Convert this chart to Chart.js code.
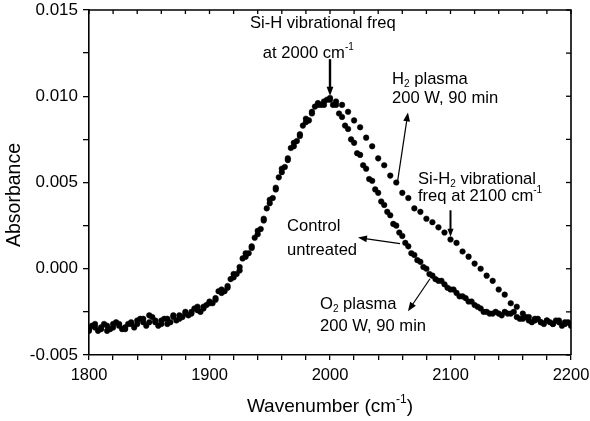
<!DOCTYPE html>
<html>
<head>
<meta charset="utf-8">
<script src="https://cdn.jsdelivr.net/npm/chart.js@4/dist/chart.umd.min.js"></script>
<style>
  html, body { margin: 0; padding: 0; background: #fff; }
  #wrap { width: 590px; height: 421px; }
</style>
</head>
<body>
<div id="wrap"><canvas id="c"></canvas></div>
<script>
// wavenumber grid (cm-1) of the control and H2 spectra
const wavenumbers = [
  1800, 1805, 1810, 1815, 1820, 1825, 1830, 1835, 1840, 1845,
  1850, 1855, 1860, 1865, 1870, 1875, 1880, 1885, 1890, 1895,
  1900, 1905, 1910, 1915, 1920, 1925, 1930, 1935, 1940, 1945,
  1950, 1955, 1960, 1965, 1970, 1975, 1980, 1985, 1990, 1995,
  2000, 2005, 2010, 2015, 2020, 2025, 2030, 2035, 2040, 2045,
  2050, 2055, 2060, 2065, 2070, 2075, 2080, 2085, 2090, 2095,
  2100, 2105, 2110, 2115, 2120, 2125, 2130, 2135, 2140, 2145,
  2150, 2155, 2160, 2165, 2170, 2175, 2180, 2185, 2190, 2195,
  2200
];
// O2 spectrum sampled half a step later
const wavenumbersO2 = wavenumbers.slice(0, 80).map(w => w + 2.5);

const controlUntreated = [
  -0.0035, -0.0034, -0.0035, -0.0033, -0.0034, -0.0032, -0.0034, -0.0031, -0.0032, -0.0029,
  -0.0031, -0.0030, -0.0032, -0.0029, -0.0028, -0.0027, -0.0026, -0.0025, -0.0024, -0.0022,
  -0.0020, -0.0017, -0.0014, -0.0010, -0.0005, 0.0001, 0.0007, 0.0013, 0.0020, 0.0029,
  0.0038, 0.0047, 0.0056, 0.0064, 0.0071, 0.0078, 0.0085, 0.0091, 0.0095, 0.0097,
  0.0098, 0.0095, 0.0088, 0.0081, 0.0073, 0.0066, 0.0058, 0.0051, 0.0044, 0.0037,
  0.0031, 0.0025, 0.0019, 0.0013, 0.0008, 0.0004, 0.0000, -0.0004, -0.0007, -0.0009,
  -0.0012, -0.0014, -0.0016, -0.0019, -0.0021, -0.0023, -0.0025, -0.0026, -0.0026, -0.0025,
  -0.0026, -0.0028, -0.0029, -0.0030, -0.0030, -0.0031, -0.0030, -0.0032, -0.0031, -0.0032,
  -0.0033
];

const o2Plasma = [
  -0.0033, -0.0036, -0.0032, -0.0035, -0.0031, -0.0035, -0.0032, -0.0034, -0.0029, -0.0033,
  -0.0028, -0.0033, -0.0029, -0.0031, -0.0030, -0.0028, -0.0027, -0.0023, -0.0025, -0.0021,
  -0.0020, -0.0013, -0.0013, -0.0006, -0.0003, 0.0006, 0.0009, 0.0018, 0.0023, 0.0035,
  0.0041, 0.0053, 0.0059, 0.0070, 0.0074, 0.0083, 0.0086, 0.0094, 0.0095, 0.0098,
  0.0095, 0.0090, 0.0083, 0.0075, 0.0067, 0.0060, 0.0052, 0.0046, 0.0039, 0.0033,
  0.0026, 0.0021, 0.0015, 0.0009, 0.0005, 0.0001, -0.0003, -0.0006, -0.0007, -0.0011,
  -0.0012, -0.0016, -0.0017, -0.0019, -0.0022, -0.0025, -0.0026, -0.0025, -0.0027, -0.0026,
  -0.0025, -0.0029, -0.0028, -0.0031, -0.0029, -0.0032, -0.0031, -0.0030, -0.0033, -0.0031
];

const h2Plasma = [
  -0.0036, -0.0032, -0.0034, -0.0036, -0.0032, -0.0033, -0.0035, -0.0032, -0.0030, -0.0031,
  -0.0027, -0.0031, -0.0030, -0.0032, -0.0027, -0.0029, -0.0025, -0.0026, -0.0022, -0.0023,
  -0.0019, -0.0018, -0.0012, -0.0011, -0.0003, -0.0001, 0.0009, 0.0012, 0.0022, 0.0028,
  0.0040, 0.0046, 0.0058, 0.0063, 0.0073, 0.0077, 0.0087, 0.0090, 0.0096, 0.0095,
  0.0099, 0.0097, 0.0095, 0.0091, 0.0086, 0.0082, 0.0076, 0.0071, 0.0064, 0.0060,
  0.0054, 0.0050, 0.0044, 0.0041, 0.0035, 0.0033, 0.0029, 0.0027, 0.0024, 0.0021,
  0.0017, 0.0015, 0.0010, 0.0007, 0.0003, 0.0000, -0.0004, -0.0007, -0.0012, -0.0015,
  -0.0020, -0.0022, -0.0026, -0.0028, -0.0029, -0.0031, -0.0030, -0.0032, -0.0030, -0.0031,
  -0.0032
];

const xTickLabels = [1800, 1900, 2000, 2100, 2200];
const yTickLabels = [-0.005, 0.000, 0.005, 0.010, 0.015];

const FONT = '"Liberation Sans", Arial, Helvetica, sans-serif';

function pts(xs, ys) {
  return ys.map((y, i) => ({ x: xs[i], y: y }));
}

// text with sub/superscript pieces: [text, mode] where mode is '', 'sub' or 'sup'
function richText(ctx, parts, x, y, size, align) {
  const fontFor = m => (m ? Math.round(size * 0.62) : size) + 'px ' + FONT;
  let w = 0;
  parts.forEach(p => { ctx.font = fontFor(p[1]); w += ctx.measureText(p[0]).width; });
  let cx = align === 'center' ? x - w / 2 : x;
  ctx.textAlign = 'left';
  ctx.textBaseline = 'middle';
  parts.forEach(p => {
    ctx.font = fontFor(p[1]);
    const dy = p[1] === 'sup' ? -size * 0.38 : p[1] === 'sub' ? size * 0.3 : 0;
    ctx.fillText(p[0], cx, y + dy);
    cx += ctx.measureText(p[0]).width;
  });
}

function arrow(ctx, x1, y1, x2, y2, lw, head) {
  const a = Math.atan2(y2 - y1, x2 - x1);
  ctx.lineWidth = lw;
  ctx.beginPath();
  ctx.moveTo(x1, y1);
  ctx.lineTo(x2 - Math.cos(a) * head * 0.8, y2 - Math.sin(a) * head * 0.8);
  ctx.stroke();
  ctx.beginPath();
  ctx.moveTo(x2, y2);
  ctx.lineTo(x2 - head * Math.cos(a) + head * 0.38 * Math.sin(a), y2 - head * Math.sin(a) - head * 0.38 * Math.cos(a));
  ctx.lineTo(x2 - head * Math.cos(a) - head * 0.38 * Math.sin(a), y2 - head * Math.sin(a) + head * 0.38 * Math.cos(a));
  ctx.closePath();
  ctx.fill();
}

// labels, arrows, mirrored axes and axis titles
const decorations = {
  id: 'decorations',
  afterDraw(chart) {
    const ctx = chart.ctx;
    const xs = chart.scales.x, ys = chart.scales.y;
    const X = v => xs.getPixelForValue(v), Y = v => ys.getPixelForValue(v);
    const a = chart.chartArea;
    ctx.save();
    ctx.fillStyle = '#000';
    ctx.strokeStyle = '#000';

    // top and right frame with inward ticks
    ctx.lineWidth = 1.6;
    ctx.beginPath();
    ctx.moveTo(a.left, a.top); ctx.lineTo(a.right, a.top); ctx.lineTo(a.right, a.bottom);
    ctx.stroke();
    ctx.lineWidth = 1.3;
    xs.ticks.forEach(t => {
      const px = X(t.value);
      ctx.beginPath(); ctx.moveTo(px, a.top); ctx.lineTo(px, a.top + 4); ctx.stroke();
    });
    ys.ticks.forEach(t => {
      const py = Y(t.value);
      ctx.beginPath(); ctx.moveTo(a.right, py); ctx.lineTo(a.right - 5, py); ctx.stroke();
    });

    // axis titles
    richText(ctx, [['Wavenumber (cm', ''], ['-1', 'sup'], [')', '']], (a.left + a.right) / 2, 407, 19, 'center');
    ctx.save();
    ctx.translate(15, 195);
    ctx.rotate(-Math.PI / 2);
    richText(ctx, [['Absorbance', '']], 0, 0, 19.5, 'center');
    ctx.restore();

    // annotations
    const fs = 16.6;
    richText(ctx, [['Si-H vibrational freq', '']], X(1994), Y(0.0142), fs, 'center');
    richText(ctx, [['at 2000 cm', ''], ['-1', 'sup']], X(1982), Y(0.01246), fs, 'center');
    arrow(ctx, X(2000), Y(0.01215), X(2000), Y(0.01003), 2.4, 9);

    richText(ctx, [['H', ''], ['2', 'sub'], [' plasma', '']], X(2051.5), Y(0.0110), fs, 'left');
    richText(ctx, [['200 W, 90 min', '']], X(2051.5), Y(0.00988), fs, 'left');
    arrow(ctx, X(2055.6), Y(0.00485), X(2064.7), Y(0.00906), 1.2, 9);

    richText(ctx, [['Si-H', ''], ['2', 'sub'], [' vibrational', '']], X(2073), Y(0.00518), fs, 'left');
    richText(ctx, [['freq at 2100 cm', ''], ['-1', 'sup']], X(2073), Y(0.00418), fs, 'left');
    arrow(ctx, X(2100), Y(0.00339), X(2100), Y(0.00185), 2, 8);

    richText(ctx, [['Control', '']], X(1964.3), Y(0.00246), fs, 'left');
    richText(ctx, [['untreated', '']], X(1964.3), Y(0.00105), fs, 'left');
    arrow(ctx, X(2058.1), Y(0.00146), X(2023.2), Y(0.00181), 1.2, 9);

    richText(ctx, [['O', ''], ['2', 'sub'], [' plasma', '']], X(1991.7), Y(-0.00205), fs, 'left');
    richText(ctx, [['200 W, 90 min', '']], X(1991.7), Y(-0.00333), fs, 'left');
    arrow(ctx, X(2083), Y(-0.00058), X(2064.7), Y(-0.00246), 1.2, 9);

    ctx.restore();
  }
};

const series = [
  { label: 'H2 plasma 200 W, 90 min', x: wavenumbers, y: h2Plasma },
  { label: 'Control untreated', x: wavenumbers, y: controlUntreated },
  { label: 'O2 plasma 200 W, 90 min', x: wavenumbersO2, y: o2Plasma }
];

new Chart(document.getElementById('c'), {
  type: 'scatter',
  data: {
    datasets: series.map(s => ({
      label: s.label,
      data: pts(s.x, s.y),
      showLine: false,
      pointRadius: 2.8,
      pointHoverRadius: 2.8,
      pointBackgroundColor: '#000',
      pointBorderColor: '#000',
      pointBorderWidth: 0.5
    }))
  },
  options: {
    responsive: true,
    maintainAspectRatio: false,
    animation: false,
    layout: { padding: { left: 0, right: 19, top: 10, bottom: 0 } },
    plugins: { legend: { display: false }, tooltip: { enabled: false } },
    scales: {
      x: {
        type: 'linear',
        min: 1800,
        max: 2200,
        afterFit: s => { s.height = 66; s.paddingLeft = 0; s.paddingRight = 0; },
        border: { color: '#000', width: 1.6 },
        grid: { drawOnChartArea: false, color: '#000', lineWidth: 1.3, tickLength: 5 },
        ticks: {
          stepSize: 20,
          autoSkip: false,
          maxRotation: 0,
          padding: 6,
          color: '#000',
          font: { family: FONT, size: 16.5 },
          callback: v => xTickLabels.includes(v) ? String(v) : ''
        }
      },
      y: {
        type: 'linear',
        min: -0.005,
        max: 0.015,
        afterFit: s => { s.width = 89; s.paddingTop = 0; s.paddingBottom = 0; },
        border: { color: '#000', width: 1.6 },
        grid: { drawOnChartArea: false, color: '#000', lineWidth: 1.3, tickLength: 6 },
        ticks: {
          stepSize: 0.0025,
          autoSkip: false,
          padding: 5,
          color: '#000',
          font: { family: FONT, size: 17 },
          callback: v => {
            const hit = yTickLabels.find(t => Math.abs(t - v) < 1e-7);
            return hit === undefined ? '' : hit.toFixed(3);
          }
        }
      }
    }
  },
  plugins: [decorations]
});
</script>
</body>
</html>
